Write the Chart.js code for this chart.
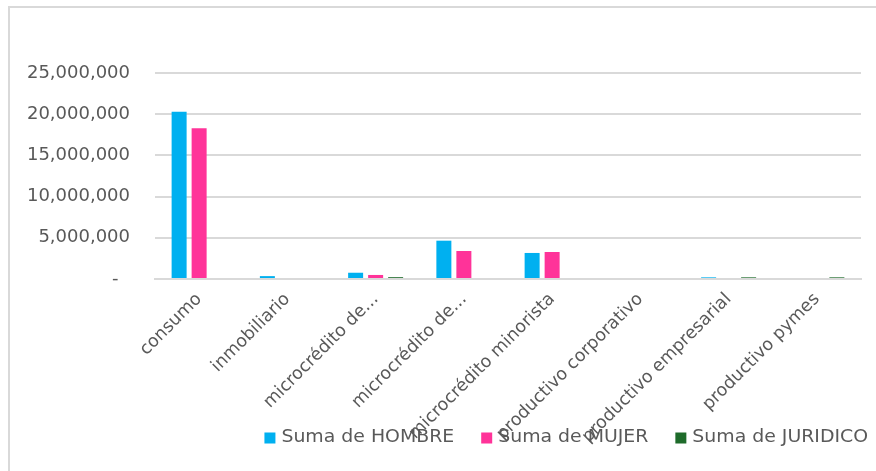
<!doctype html>
<html lang="es">
<head>
  <meta charset="utf-8">
  <title>Suma por tipo de crédito</title>
  <script src="https://cdn.jsdelivr.net/npm/chart.js"></script>
  <style>
    html, body { margin: 0; padding: 0; background: #fff; }
    #wrap { width: 876px; height: 471px; }
  </style>
</head>
<body>
<div id="wrap"><canvas id="chart"></canvas></div>
<script>
  // categorias y series
  const categories = ['consumo', 'inmobiliario', 'microcrédito de...', 'microcrédito de...',
    'microcrédito minorista', 'productivo corporativo', 'productivo empresarial', 'productivo pymes'];
  const hombre = [20290000, 350000, 760000, 4650000, 3160000, 0, 200000, 0];
  const mujer = [18310000, 0, 490000, 3400000, 3280000, 0, 0, 0];
  const juridico = [0, 0, 220000, 0, 0, 0, 200000, 200000];
  const yTicks = [0, 5000000, 10000000, 15000000, 20000000, 25000000];

  const FONT = 'DejaVu Sans';
  const GREY = '#595959';

  // marco gris alrededor del grafico y leyenda propia (se solapa con las etiquetas como en Excel)
  const frameAndLegend = {
    id: 'frameAndLegend',
    beforeDraw(chart) {
      const c = chart.ctx;
      c.save();
      c.fillStyle = '#fff';
      c.fillRect(0, 0, chart.width, chart.height);
      c.strokeStyle = '#d9d9d9';
      c.lineWidth = 2;
      c.strokeRect(9, 7, chart.width + 20, chart.height + 20);
      c.restore();
    },
    afterDraw(chart) {
      const c = chart.ctx;
      c.save();
      c.font = '17px "' + FONT + '"';
      c.textBaseline = 'middle';
      const box = 11, gap = 6, itemGap = 27, cy = 438, stretch = 1.11;
      let x = 868;
      const sets = chart.data.datasets.slice().reverse();
      sets.forEach(ds => {
        const w = c.measureText(ds.label).width * stretch;
        x -= w;
        c.save();
        c.translate(x, cy);
        c.scale(stretch, 1);
        c.fillStyle = GREY;
        c.fillText(ds.label, 0, 0);
        c.restore();
        x -= gap + box;
        c.fillStyle = ds.backgroundColor;
        c.fillRect(x, cy - box / 2, box, box);
        x -= itemGap;
      });
      c.restore();
    }
  };

  new Chart(document.getElementById('chart'), {
    type: 'bar',
    data: {
      labels: categories,
      datasets: [
        { label: 'Suma de HOMBRE', data: hombre, backgroundColor: '#00B0F0' },
        { label: 'Suma de MUJER', data: mujer, backgroundColor: '#FF3399' },
        { label: 'Suma de JURIDICO', data: juridico, backgroundColor: '#1E6B2A' }
      ]
    },
    options: {
      responsive: true,
      maintainAspectRatio: false,
      animation: false,
      categoryPercentage: 0.68,
      barPercentage: 0.75,
      layout: { padding: { left: 0, right: 15, top: 73, bottom: 0 } },
      plugins: {
        legend: { display: false },
        tooltip: { enabled: false }
      },
      scales: {
        x: {
          grid: { display: false, drawTicks: false },
          border: { display: true, color: '#d9d9d9', width: 2 },
          ticks: {
            color: GREY,
            font: { family: FONT, size: 17.5 },
            minRotation: 45,
            maxRotation: 45,
            autoSkip: false,
            padding: 10
          },
          afterFit(scale) { scale.height = 192; }
        },
        y: {
          min: 0,
          max: 25000000,
          afterBuildTicks(scale) { scale.ticks = yTicks.map(v => ({ value: v })); },
          grid: { color: '#d9d9d9', lineWidth: 2, drawTicks: false },
          border: { display: false },
          ticks: {
            color: GREY,
            font: { family: FONT, size: 18 },
            padding: 25,
            callback: v => v === 0 ? '-  ' : v.toLocaleString('en-US')
          },
          afterFit(scale) { scale.width = 155; }
        }
      }
    },
    plugins: [frameAndLegend]
  });
</script>
</body>
</html>
